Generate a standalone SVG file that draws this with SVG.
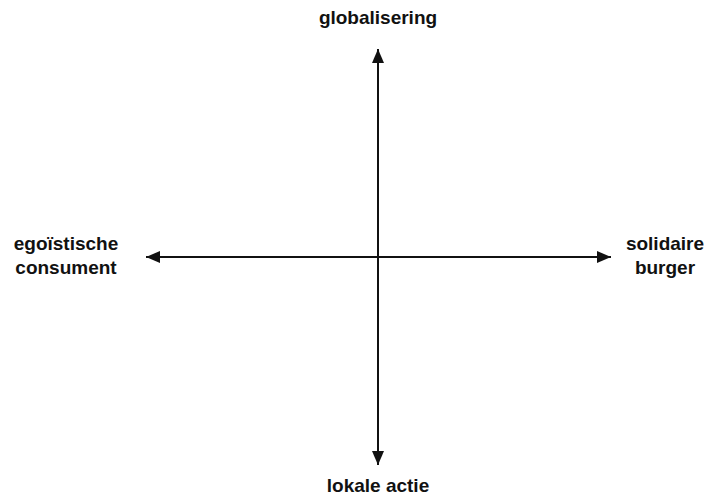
<svg xmlns="http://www.w3.org/2000/svg" width="709" height="499" viewBox="0 0 709 499">
<style>
text{font-family:"Liberation Sans",Arial,sans-serif;font-weight:bold;font-size:19px;fill:#111;text-anchor:middle}
.ax{stroke:#111;stroke-width:2;fill:none}
</style>
<defs>
<marker id="ah" viewBox="0 0 14 12" refX="14" refY="6" markerWidth="14" markerHeight="12" markerUnits="userSpaceOnUse" orient="auto">
<path d="M0,0 L14,6 L0,12 Z" fill="#111"/>
</marker>
</defs>
<rect width="709" height="499" fill="#fff"/>
<g id="connectors">
<line class="ax" x1="378" y1="257" x2="378" y2="49" marker-end="url(#ah)"/>
<line class="ax" x1="378" y1="257" x2="378" y2="465" marker-end="url(#ah)"/>
<line class="ax" x1="378" y1="257" x2="146" y2="257" marker-end="url(#ah)"/>
<line class="ax" x1="378" y1="257" x2="611" y2="257" marker-end="url(#ah)"/>
</g>
<g id="top"><text x="378" y="24">globalisering</text></g>
<g id="left"><text x="66" y="250">egoïstische</text><text x="66" y="274">consument</text></g>
<g id="right"><text x="665" y="250">solidaire</text><text x="665" y="274">burger</text></g>
<g id="bottom"><text x="378" y="492">lokale actie</text></g>
</svg>
